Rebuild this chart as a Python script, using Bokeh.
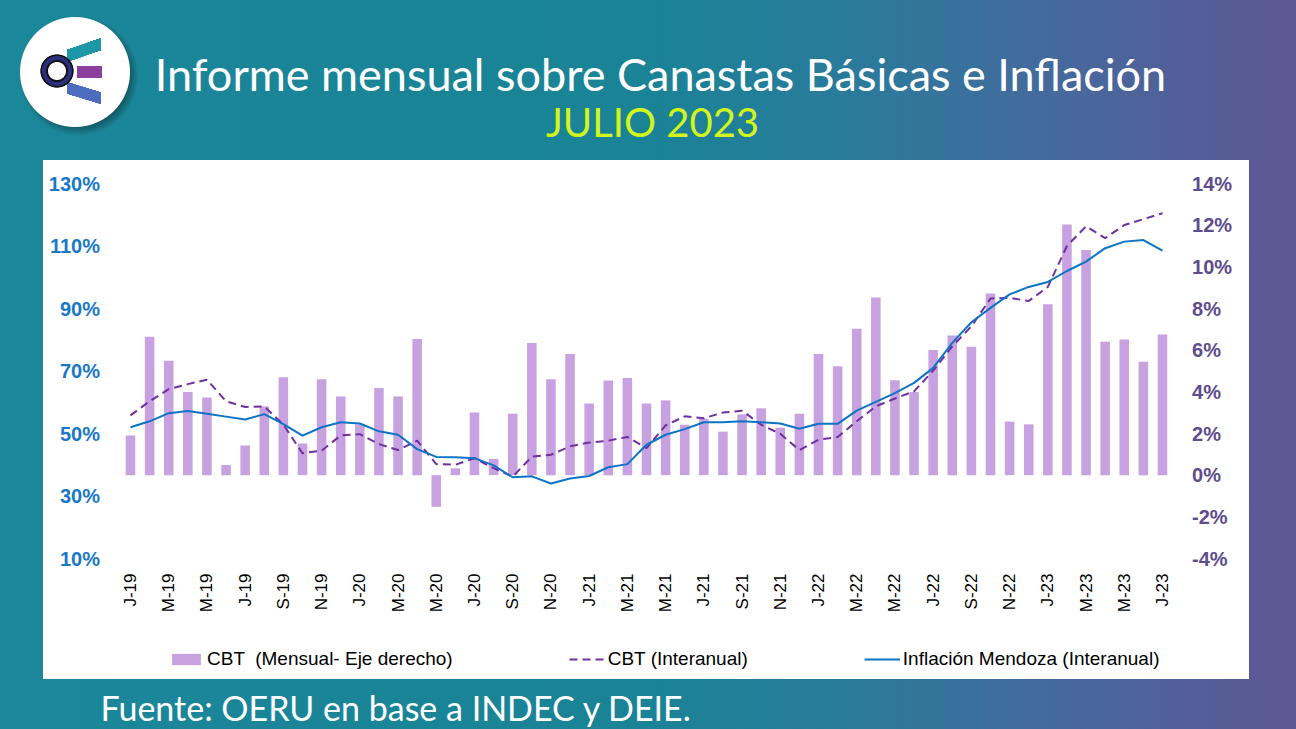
import numpy as np
from bokeh.plotting import figure
from bokeh.models import (Range1d, LinearAxis, FixedTicker, Legend, LegendItem,
                          Label, ColumnDataSource, PrintfTickFormatter)
from bokeh.embed import file_html
from bokeh.resources import INLINE

# ---------------- data ----------------
month_labels = [
    "J-19", "F-19", "M-19", "A-19", "M-19", "J-19", "J-19", "A-19", "S-19", "O-19", "N-19", "D-19",
    "J-20", "F-20", "M-20", "A-20", "M-20", "J-20", "J-20", "A-20", "S-20", "O-20", "N-20", "D-20",
    "J-21", "F-21", "M-21", "A-21", "M-21", "J-21", "J-21", "A-21", "S-21", "O-21", "N-21", "D-21",
    "J-22", "F-22", "M-22", "A-22", "M-22", "J-22", "J-22", "A-22", "S-22", "O-22", "N-22", "D-22",
    "J-23", "F-23", "M-23", "A-23", "M-23", "J-23", "J-23",
]
# CBT monthly variation (%), right axis
cbt_mensual = [
    1.90, 6.65, 5.49, 3.99, 3.73, 0.49, 1.42, 3.30, 4.70, 1.52, 4.61, 3.78,
    2.44, 4.18, 3.78, 6.54, -1.52, 0.33, 3.01, 0.78, 2.95, 6.35, 4.61, 5.82,
    3.44, 4.55, 4.66, 3.44, 3.59, 2.42, 2.71, 2.09, 2.92, 3.21, 2.28, 2.95,
    5.82, 5.23, 7.03, 8.53, 4.56, 3.99, 6.01, 6.70, 6.16, 8.72, 2.57, 2.44,
    8.20, 12.03, 10.81, 6.41, 6.51, 5.44, 6.75,
]
# CBT year-on-year (%), left axis
cbt_interanual = [
    55.8, 60.3, 64.2, 65.8, 67.2, 60.3, 58.5, 58.7, 52.8, 43.7, 44.5, 49.4,
    49.8, 46.6, 44.7, 47.7, 40.2, 40.0, 42.1, 38.9, 36.2, 42.6, 43.2, 45.9,
    47.1, 47.7, 48.9, 45.3, 52.6, 55.5, 54.9, 56.7, 57.3, 52.8, 49.9, 44.7,
    48.0, 48.9, 53.9, 58.7, 61.2, 63.5, 70.1, 77.9, 84.3, 93.2, 93.4, 92.4,
    96.9, 110.0, 116.3, 112.5, 116.7, 118.6, 120.5,
]
# Mendoza inflation year-on-year (%), left axis
inflacion_mendoza = [
    52.0, 53.9, 56.5, 57.2, 56.3, 55.4, 54.5, 56.2, 53.0, 49.3, 52.0, 53.6,
    53.2, 50.7, 49.6, 45.0, 42.5, 42.4, 42.1, 39.8, 36.0, 36.3, 34.0, 35.6,
    36.4, 39.2, 40.2, 46.4, 49.6, 51.4, 53.6, 53.6, 53.9, 53.6, 53.2, 51.5,
    53.1, 53.1, 57.3, 60.1, 62.9, 66.2, 71.0, 79.0, 85.6, 90.2, 94.5, 96.9,
    98.5, 102.0, 105.0, 109.3, 111.4, 111.9, 108.5,
]
left_ticks = [10, 30, 50, 70, 90, 110, 130]
right_ticks = [-4, -2, 0, 2, 4, 6, 8, 10, 12, 14]
legend_labels = ["CBT  (Mensual- Eje derecho)", "CBT (Interanual)", "Inflación Mendoza (Interanual)"]
title_text = "Informe mensual sobre Canastas Básicas e Inflación"
subtitle_text = "JULIO 2023"
source_text = "Fuente: OERU en base a INDEC y DEIE."

idx = list(range(len(month_labels)))
src = ColumnDataSource(dict(x=idx, mensual=cbt_mensual,
                            interanual=cbt_interanual, inflacion=inflacion_mendoza))

# ---------------- page geometry (canvas pixels) ----------------
W, H = 1296, 729
PX_FIRST, PX_LAST = 130, 1162     # centre of first / last month
PY_TOP, PY_BOT = 183, 558         # pixel rows of the top / bottom ticks
L_MIN, L_MAX = 10, 130
R_MIN, R_MAX = -4, 14
n = len(idx)
step = (PX_LAST - PX_FIRST) / (n - 1)
x_start = -PX_FIRST / step
x_end = (n - 1) + (W - PX_LAST) / step
lk = (PY_BOT - PY_TOP) / (L_MAX - L_MIN)
rk = (PY_BOT - PY_TOP) / (R_MAX - R_MIN)
l_start, l_end = L_MIN - (H - PY_BOT) / lk, L_MAX + PY_TOP / lk
r_start, r_end = R_MIN - (H - PY_BOT) / rk, R_MAX + PY_TOP / rk

background = ", ".join([
    "radial-gradient(circle 17px at 57px 71px, #ffffff 0px, #ffffff 8.5px, #111111 9.5px, #111111 10.5px, "
    "#2c2f7f 11.5px, #2c2f7f 14.5px, #111111 15.5px, #111111 16.3px, rgba(0,0,0,0) 17px)",
    "linear-gradient(#8b3e9d, #8b3e9d) 77px 66px / 25px 12px no-repeat",
    "linear-gradient(161deg, rgba(0,0,0,0) 32%, #1b97a6 32.5%, #1b97a6 67.5%, rgba(0,0,0,0) 68%) 67px 38px / 34px 24px no-repeat",
    "linear-gradient(197deg, rgba(0,0,0,0) 32%, #4c6cc0 32.5%, #4c6cc0 67.5%, rgba(0,0,0,0) 68%) 67px 81px / 34px 24px no-repeat",
    "radial-gradient(circle 56px at 75px 72px, #ffffff 54.5px, rgba(255,255,255,0) 55.5px)",
    "radial-gradient(circle 62px at 79px 76px, rgba(0,0,0,0.35) 50px, rgba(0,0,0,0) 60px)",
    "linear-gradient(#ffffff, #ffffff) 43px 160px / 1206px 519px no-repeat",
    "linear-gradient(90deg, #1b879a 0%, #1a8396 50%, #2a7a9b 66%, #46699d 82%, #5d5795 100%)",
])

# the frame covers the whole page; axes are pinned with fixed_location
p = figure(width=W, height=H, x_range=Range1d(x_start, x_end), y_range=Range1d(l_start, l_end),
           output_backend="svg", toolbar_location=None, min_border=0,
           background_fill_color=None, border_fill_color=None, outline_line_color=None,
           styles={"background": background})
p.extra_y_ranges = {"right": Range1d(r_start, r_end)}

bars = p.vbar(x="x", top="mensual", bottom=0, width=0.5, source=src,
              y_range_name="right", fill_color="#c8a2e0", line_color=None)
dashed = p.line("x", "interanual", source=src, line_color="#7030a0", line_width=2,
                line_dash="8 5")
solid = p.line("x", "inflacion", source=src, line_color="#0c74c4", line_width=2)

p.xgrid.visible = False
p.ygrid.visible = False

def style_axis(ax, color, size, bold, standoff):
    ax.axis_line_color = None
    ax.major_tick_line_color = None
    ax.minor_tick_line_color = None
    ax.major_tick_out = 0
    ax.major_tick_in = 0
    ax.minor_tick_out = 0
    ax.minor_tick_in = 0
    ax.major_label_text_font = "Liberation Sans"
    ax.major_label_text_font_style = "bold" if bold else "normal"
    ax.major_label_text_font_size = size
    ax.major_label_text_color = color
    ax.major_label_standoff = standoff

xa = p.xaxis[0]
xa.ticker = FixedTicker(ticks=idx[::2])
xa.major_label_overrides = {i: month_labels[i] for i in idx[::2]}
xa.major_label_orientation = np.pi / 2
xa.fixed_location = L_MIN
style_axis(xa, "#000000", "17px", False, 15)

ya = p.yaxis[0]
ya.ticker = FixedTicker(ticks=left_ticks)
ya.formatter = PrintfTickFormatter(format="%d%%")
ya.fixed_location = -0.5
style_axis(ya, "#1a78c8", "20px", True, 21)

ra = LinearAxis(y_range_name="right", ticker=FixedTicker(ticks=right_ticks),
                formatter=PrintfTickFormatter(format="%d%%"), fixed_location=(n - 1) + 0.5)
style_axis(ra, "#5e4c8c", "20px", True, 20)
p.add_layout(ra, "right")

legend = Legend(items=[LegendItem(label=legend_labels[0], renderers=[bars]),
                       LegendItem(label=legend_labels[1], renderers=[dashed]),
                       LegendItem(label=legend_labels[2], renderers=[solid])],
                orientation="horizontal", location=(168, H - 670), spacing=116,
                label_text_font="Liberation Sans", label_text_font_size="19px",
                label_text_color="#000000", glyph_width=36, glyph_height=14,
                label_standoff=3, border_line_color=None, background_fill_alpha=0,
                padding=0, margin=0)
p.add_layout(legend, "center")

def add_text(cx, cy, text, color, size, align):
    p.add_layout(Label(x=cx, y=H - cy, x_units="screen", y_units="screen",
                       text=text, text_color=color, text_font="Lato",
                       text_font_size=size, text_align=align, text_baseline="middle"))

add_text(660, 73, title_text, "#ffffff", "45px", "center")
add_text(652, 121, subtitle_text, "#d2f51e", "40px", "center")
add_text(100, 707, source_text, "#ffffff", "34px", "left")

open("out.html", "w").write(file_html(p, INLINE))
